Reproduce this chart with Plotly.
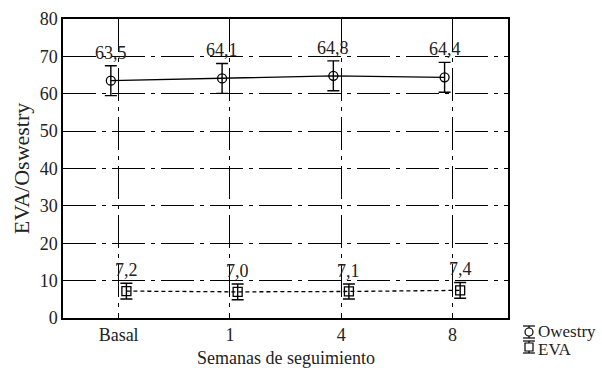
import numpy as np
import plotly.graph_objects as go

categories = ["Basal", "1", "4", "8"]
owestry = [63.5, 64.1, 64.8, 64.4]
owestry_err = [4.0, 4.0, 4.0, 4.0]
eva = [7.2, 7.0, 7.1, 7.4]
eva_err = [2.1, 2.1, 2.0, 2.1]
y_ticks = [0, 10, 20, 30, 40, 50, 60, 70, 80]
x_title = "Semanas de seguimiento"
y_title = "EVA/Oswestry"

FONT = "Liberation Serif, Times New Roman, serif"
FS = 18
TXT = "#222"
GRID_DASH = "33px,6px,4px,6px"
idx = np.arange(len(categories))
x_ow = idx - 0.07
x_eva = idx + 0.07

fig = go.Figure()
fig.add_trace(go.Scatter(
    x=x_ow, y=owestry, mode="lines+markers", name="Owestry",
    line=dict(color="black", width=1.3),
    marker=dict(symbol="circle-open", size=9, color="black", line=dict(width=1.3)),
    error_y=dict(type="data", array=owestry_err, color="black", thickness=1.4, width=6),
    showlegend=False, hoverinfo="skip"))
fig.add_trace(go.Scatter(
    x=x_eva, y=eva, mode="lines+markers", name="EVA",
    line=dict(color="black", width=1.3, dash="4px,3px"),
    marker=dict(symbol="square-open", size=9, color="black", line=dict(width=1.3)),
    error_y=dict(type="data", array=eva_err, color="black", thickness=1.4, width=6),
    showlegend=False, hoverinfo="skip"))

ann = []
for xi, v, e in zip(x_ow, owestry, owestry_err):
    ann.append(dict(x=xi, y=v + e, text=f"{v:.1f}".replace(".", ","), showarrow=False,
                    yanchor="bottom", yshift=1, font=dict(family=FONT, size=FS, color=TXT)))
for xi, v, e in zip(x_eva, eva, eva_err):
    ann.append(dict(x=xi, y=v + e, text=f"{v:.1f}".replace(".", ","), showarrow=False,
                    yanchor="bottom", yshift=1, font=dict(family=FONT, size=FS, color=TXT)))

# custom legend (paper coords)
def px_x(p):
    return (p - 63) / 445.0
def px_y(p):
    return (318 - p) / 299.0

shapes = []
lx = px_x(529)
for (y0, y1, cy, kind) in [(326, 338, 332, "circle"), (341, 353, 347, "rect")]:
    shapes.append(dict(type="line", xref="paper", yref="paper", x0=lx, x1=lx, y0=px_y(y0), y1=px_y(y1),
                       line=dict(color="black", width=1.2)))
    for yy in (y0, y1):
        shapes.append(dict(type="line", xref="paper", yref="paper", x0=px_x(523), x1=px_x(535),
                           y0=px_y(yy), y1=px_y(yy), line=dict(color="black", width=1.2)))
    shapes.append(dict(type=kind, xref="paper", yref="paper", xsizemode="pixel", ysizemode="pixel",
                       xanchor=lx, yanchor=px_y(cy), x0=-4, x1=4, y0=-4, y1=4,
                       fillcolor="white", line=dict(color="black", width=1.2)))

ann.append(dict(x=px_x(536), y=px_y(331), xref="paper", yref="paper", text="Owestry", showarrow=False,
                xanchor="left", yanchor="middle", font=dict(family=FONT, size=17, color=TXT)))
ann.append(dict(x=px_x(536), y=px_y(349), xref="paper", yref="paper", text="EVA", showarrow=False,
                xanchor="left", yanchor="middle", font=dict(family=FONT, size=17, color=TXT)))
ann.append(dict(x=0.5, y=px_y(358), xref="paper", yref="paper", text=x_title, showarrow=False,
                xanchor="center", yanchor="middle", font=dict(family=FONT, size=FS, color=TXT)))

fig.update_layout(
    width=602, height=368,
    margin=dict(l=63, r=94, t=19, b=50),
    paper_bgcolor="white", plot_bgcolor="white",
    font=dict(family=FONT, size=FS, color=TXT),
    annotations=ann, shapes=shapes,
    xaxis=dict(range=[-0.5, 3.5], tickvals=list(idx), ticktext=categories, automargin=False,
               showgrid=True, gridcolor="black", gridwidth=1, griddash=GRID_DASH,
               showline=True, mirror=True, linecolor="black", linewidth=1.5,
               ticks="", zeroline=False),
    yaxis=dict(range=[0, 80], tickvals=y_ticks, automargin=False,
               showgrid=True, gridcolor="black", gridwidth=1, griddash=GRID_DASH,
               showline=True, mirror=True, linecolor="black", linewidth=1.5,
               ticks="", zeroline=False,
               title=dict(text=y_title, standoff=4)),
)
fig.write_html("out.html", config={"displayModeBar": False},
               post_script="document.body.style.margin='0';document.body.style.overflow='hidden';")
